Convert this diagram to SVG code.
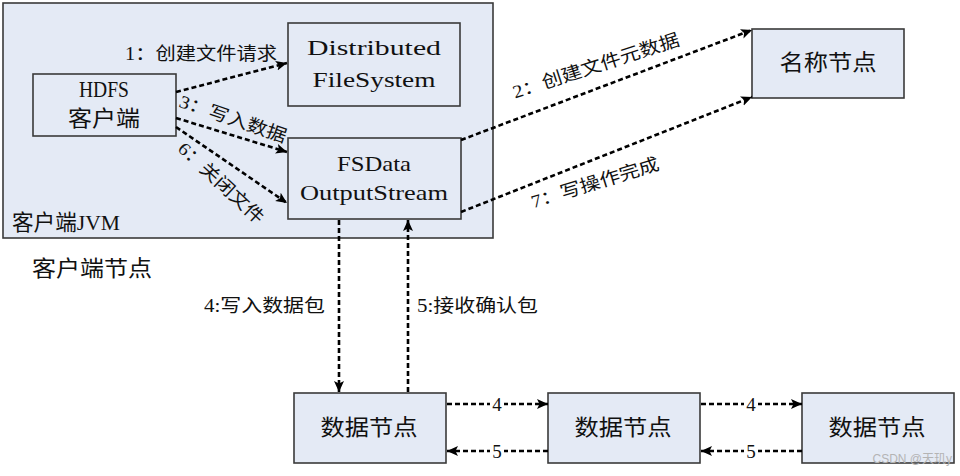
<svg xmlns="http://www.w3.org/2000/svg" width="960" height="476" viewBox="0 0 960 476">
<defs>
<marker id="ah" markerUnits="userSpaceOnUse" markerWidth="12" markerHeight="12" refX="11" refY="5" orient="auto" viewBox="0 0 12 10">
<path d="M0,0 L11,5 L0,10 L2.5,5 Z" fill="#000"/>
</marker>
<style>
.box{fill:#e4eaf5;stroke:#3a3a3a;stroke-width:1.6}
.t{font-family:"Liberation Serif","Noto Sans CJK SC",serif;fill:#111}
.big{font-size:22px}
.lab{font-size:18px}
.num{font-size:19px}
.c{text-anchor:middle}
.dash{fill:none;stroke:#000;stroke-width:2.6;stroke-dasharray:5 3}
</style>
</defs>
<rect width="960" height="476" fill="#fff"/>

<g id="client-jvm">
<rect class="box" x="3" y="3" width="490" height="235"/>
<text class="t big" x="12" y="230" textLength="108" lengthAdjust="spacingAndGlyphs">客户端JVM</text>
</g>
<g id="client-node-label">
<text class="t big" x="32" y="276" textLength="120" lengthAdjust="spacingAndGlyphs">客户端节点</text>
</g>

<g id="hdfs-client">
<rect class="box" x="33" y="74" width="143" height="62"/>
<text class="t c" font-size="23" x="104" y="97" textLength="50" lengthAdjust="spacingAndGlyphs">HDFS</text>
<text class="t big c" x="104" y="126" textLength="72" lengthAdjust="spacingAndGlyphs">客户端</text>
</g>

<g id="dfs">
<rect class="box" x="288" y="23" width="172" height="83"/>
<text class="t big c" x="374" y="55" textLength="134" lengthAdjust="spacingAndGlyphs">Distributed</text>
<text class="t big c" x="374" y="87" textLength="123" lengthAdjust="spacingAndGlyphs">FileSystem</text>
</g>

<g id="fsdos">
<rect class="box" x="288" y="138" width="173" height="81"/>
<text class="t big c" x="374" y="171" textLength="74" lengthAdjust="spacingAndGlyphs">FSData</text>
<text class="t big c" x="374" y="200" textLength="148" lengthAdjust="spacingAndGlyphs">OutputStream</text>
</g>

<g id="namenode">
<rect class="box" x="752" y="29" width="152" height="69"/>
<text class="t big c" x="828" y="70" textLength="97" lengthAdjust="spacingAndGlyphs">名称节点</text>
</g>

<g id="datanode1">
<rect class="box" x="294" y="393" width="152" height="70"/>
<text class="t big c" x="369" y="435" textLength="97" lengthAdjust="spacingAndGlyphs">数据节点</text>
</g>
<g id="datanode2">
<rect class="box" x="548" y="393" width="152" height="70"/>
<text class="t big c" x="623" y="435" textLength="97" lengthAdjust="spacingAndGlyphs">数据节点</text>
</g>
<g id="datanode3">
<rect class="box" x="802" y="393" width="152" height="70"/>
<text class="t big c" x="877" y="435" textLength="97" lengthAdjust="spacingAndGlyphs">数据节点</text>
</g>

<g id="connectors">
<line class="dash" x1="176" y1="92" x2="287" y2="63" marker-end="url(#ah)"/>
<line class="dash" x1="176" y1="118" x2="287" y2="152" marker-end="url(#ah)"/>
<line class="dash" x1="176" y1="127" x2="287" y2="203" marker-end="url(#ah)"/>
<line class="dash" x1="461" y1="140" x2="752" y2="30" marker-end="url(#ah)"/>
<line class="dash" x1="461" y1="212" x2="752" y2="97" marker-end="url(#ah)"/>
<line class="dash" x1="339" y1="220" x2="339" y2="392" marker-end="url(#ah)"/>
<line class="dash" x1="408" y1="392" x2="408" y2="220" marker-end="url(#ah)"/>
<line class="dash" x1="447" y1="404" x2="548" y2="404" marker-end="url(#ah)"/>
<line class="dash" x1="548" y1="451" x2="447" y2="451" marker-end="url(#ah)"/>
<line class="dash" x1="701" y1="404" x2="802" y2="404" marker-end="url(#ah)"/>
<line class="dash" x1="802" y1="451" x2="701" y2="451" marker-end="url(#ah)"/>

<text class="t lab" x="277" y="60" text-anchor="end" textLength="152" lengthAdjust="spacingAndGlyphs">1：创建文件请求</text>
<text class="t lab c" dominant-baseline="central" transform="translate(233,119) rotate(19)" textLength="112" lengthAdjust="spacingAndGlyphs">3：写入数据</text>
<text class="t lab c" dominant-baseline="central" transform="translate(221,183) rotate(43)" textLength="110" lengthAdjust="spacingAndGlyphs">6：关闭文件</text>
<text class="t lab c" dominant-baseline="central" transform="translate(596,66) rotate(-18)" textLength="174" lengthAdjust="spacingAndGlyphs">2：创建文件元数据</text>
<text class="t lab c" dominant-baseline="central" transform="translate(595,183) rotate(-17)" textLength="133" lengthAdjust="spacingAndGlyphs">7：写操作完成</text>
<text class="t lab" x="204" y="312" textLength="121" lengthAdjust="spacingAndGlyphs">4:写入数据包</text>
<text class="t lab" x="417" y="312" textLength="121" lengthAdjust="spacingAndGlyphs">5:接收确认包</text>

<rect x="490" y="393" width="14" height="22" fill="#fff"/>
<text class="t num c" x="497" y="411">4</text>
<rect x="490" y="440" width="14" height="22" fill="#fff"/>
<text class="t num c" x="497" y="458">5</text>
<rect x="744" y="393" width="14" height="22" fill="#fff"/>
<text class="t num c" x="751" y="411">4</text>
<rect x="744" y="440" width="14" height="22" fill="#fff"/>
<text class="t num c" x="751" y="458">5</text>
</g>

<text x="952" y="463" text-anchor="end" font-family="Liberation Sans, Noto Sans CJK SC, sans-serif" font-size="12" fill="#b4b4b4">CSDN @天玑y</text>
</svg>
